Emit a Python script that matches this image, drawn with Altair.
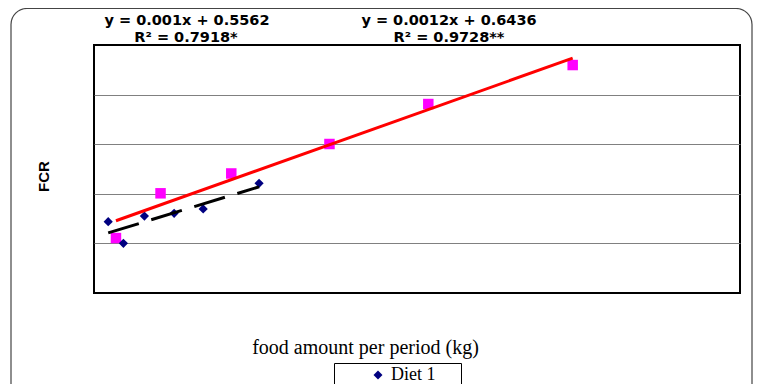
import altair as alt
import pandas as pd

# ---- data ----
diet1_x = [44, 91, 156, 248, 338, 511]
diet1_y = [0.719, 0.501, 0.776, 0.803, 0.847, 1.106]
diet2_x = [68, 206, 425, 729, 1035, 1482]
diet2_y = [0.554, 1.005, 1.205, 1.502, 1.905, 2.298]
series_names = ["Diet 1", "Diet 2"]
eq_texts = ["y = 0.001x + 0.5562", "y = 0.0012x + 0.6436"]
r2_texts = ["R² = 0.7918*", "R² = 0.9728**"]
x_title = "food amount per period (kg)"
y_title = "FCR"

d1 = pd.DataFrame({"x": diet1_x, "y": diet1_y, "series": series_names[0]})
d2 = pd.DataFrame({"x": diet2_x, "y": diet2_y, "series": series_names[1]})
one = alt.Data(values=[{"k": 1}])

xs = alt.Scale(domain=[0, 2000], nice=False)
ys = alt.Scale(domain=[0, 2.5], nice=False)

X = alt.X("x:Q", scale=xs, axis=alt.Axis(
    title=x_title, labels=False, ticks=False, domain=False, grid=False,
    titleX=271, titleY=60, titleAlign="center", titleBaseline="alphabetic",
    titleFont="Liberation Serif", titleFontSize=20, titleFontWeight="normal",
    titleColor="black"))
Y = alt.Y("y:Q", scale=ys, axis=alt.Axis(
    title=y_title, labels=False, ticks=False, domain=False, grid=True,
    values=[0.5, 1, 1.5, 2], gridColor="#808080", gridWidth=1,
    titleX=-51, titleY=131, titleAngle=270, titleAlign="center",
    titleBaseline="middle", titleFont="Liberation Sans", titleFontSize=15,
    titleFontWeight="bold", titleColor="black"))

border = alt.Chart(one).mark_rect(
    fillOpacity=0, stroke="#444444", strokeWidth=1.2, cornerRadius=16
).encode(x=alt.value(-83), x2=alt.value(658), y=alt.value(-36.5), y2=alt.value(362))

pts2 = alt.Chart(d2).mark_point(
    shape="square", filled=True, size=110, color="#FF00FF", opacity=1
).encode(x=X, y=Y)

pad_title = "_" * 2
pts1 = alt.Chart(d1).mark_point(
    shape="diamond", filled=True, size=85, opacity=1
).encode(
    x=X, y=Y,
    color=alt.Color("series:N",
                    scale=alt.Scale(domain=[series_names[0]], range=["#000080"]),
                    legend=alt.Legend(
                        title=pad_title, titleOrient="right", titleColor="white",
                        titleFontSize=18, titlePadding=2,
                        orient="none", legendX=240, legendY=318,
                        strokeColor="black", padding=3, symbolType="diamond",
                        symbolSize=80, symbolOffset=32, labelOffset=4,
                        labelFont="Liberation Serif", labelFontSize=18,
                        labelColor="black")),
)

line2 = alt.Chart(d2).transform_regression("x", "y").mark_line(
    color="#FF0000", strokeWidth=3
).encode(x=X, y=Y)

line1 = alt.Chart(d1).transform_regression("x", "y").mark_line(
    color="black", strokeWidth=3, strokeDash=[32, 13]
).encode(x=X, y=Y)

def label(txt, px, py):
    return alt.Chart(one).mark_text(
        font="DejaVu Sans", fontWeight="bold", fontSize=14.5, color="black",
        align="center", baseline="alphabetic"
    ).encode(x=alt.value(px), y=alt.value(py), text=alt.value(txt))

texts = [
    label(eq_texts[0], 93, -20),
    label(r2_texts[0], 92, -3.5),
    label(eq_texts[1], 355, -20),
    label(r2_texts[1], 355, -3.5),
]

chart = alt.layer(border, pts2, pts1, line2, line1, *texts).properties(
    width=646, height=248,
    autosize=alt.AutoSizeParams(type="none"),
    padding={"left": 86, "top": 37, "right": 13, "bottom": 91},
    background="white",
).configure_view(stroke="black", strokeWidth=2)

chart.save("out.html", embed_options={"renderer": "svg", "actions": False})
